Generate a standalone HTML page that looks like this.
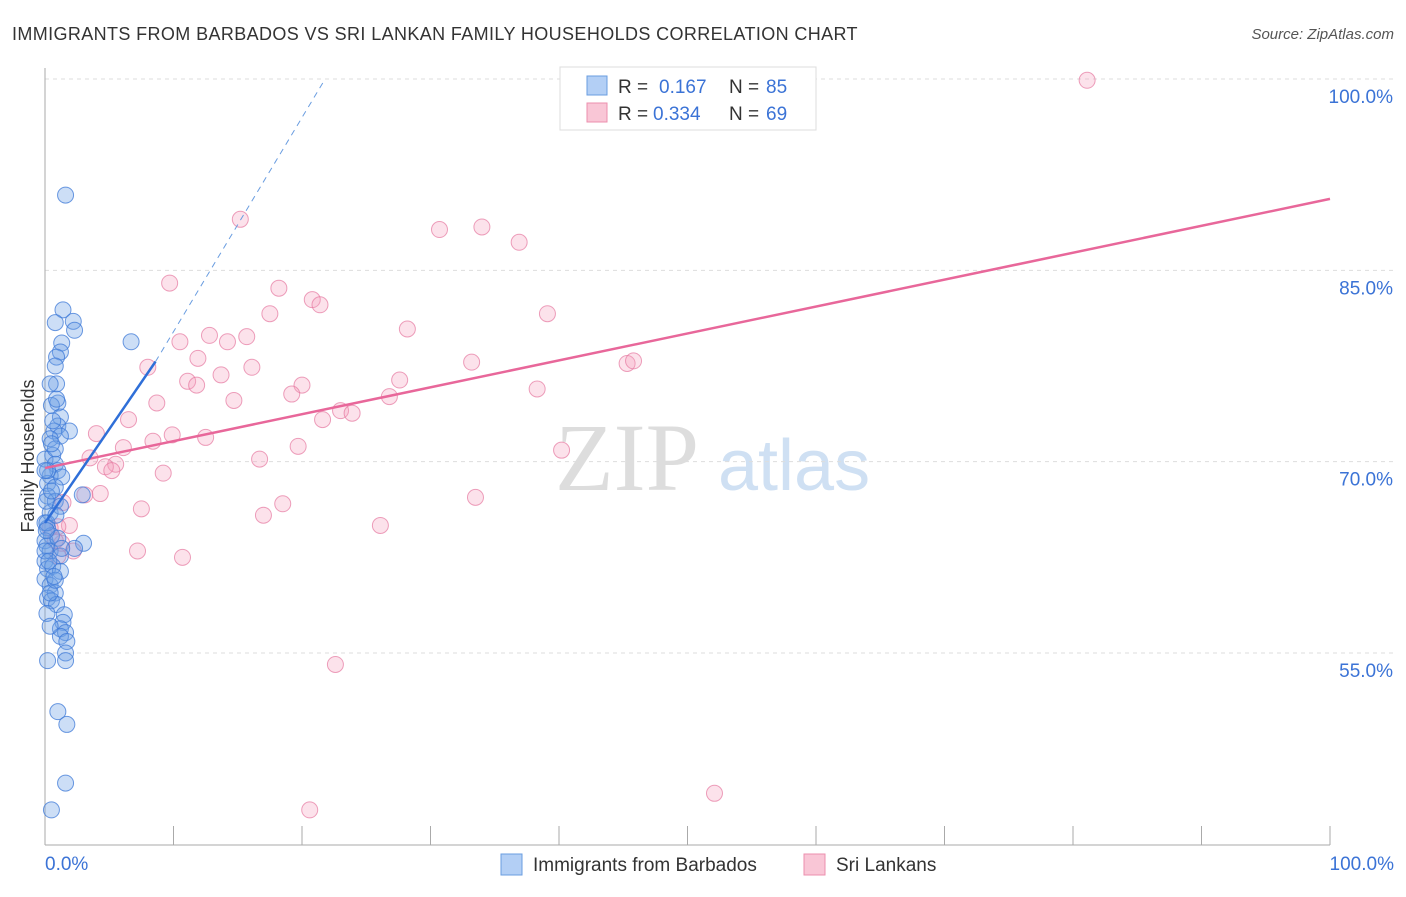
<!DOCTYPE html>
<html><head><meta charset="utf-8"><style>
body{margin:0;background:#fff;font-family:"Liberation Sans",sans-serif}
</style></head><body>
<svg id="c" width="1406" height="892" xmlns="http://www.w3.org/2000/svg">
<text x="12" y="40" font-size="18" fill="#333" letter-spacing="0.38">IMMIGRANTS FROM BARBADOS VS SRI LANKAN FAMILY HOUSEHOLDS CORRELATION CHART</text>
<text x="1394" y="39" font-size="15" fill="#555" font-style="italic" text-anchor="end">Source: ZipAtlas.com</text>
<text x="34" y="456" font-size="18" fill="#333" text-anchor="middle" transform="rotate(-90 34 456)">Family Households</text>
<text x="555" y="490" font-size="96" fill="#ddd" font-family="Liberation Serif">ZIP</text>
<text x="718" y="490" font-size="72" fill="#cfe0f3">atlas</text>
<g id="grid"></g><g id="pts"></g><g id="trend"></g>
<g>
<rect x="560" y="67" width="256" height="63" fill="#fff" stroke="#ddd"/>
<rect x="587" y="76" width="20" height="19" fill="#b3cff5" stroke="#6a9de0"/>
<rect x="587" y="103" width="20" height="19" fill="#f9c6d6" stroke="#ec8fae"/>
<text y="93" font-size="19" fill="#333"><tspan x="618">R =</tspan><tspan x="659" fill="#3b73d6">0.167</tspan><tspan x="729">N =</tspan><tspan x="766" fill="#3b73d6">85</tspan></text>
<text y="120" font-size="19" fill="#333"><tspan x="618">R =</tspan><tspan x="653" fill="#3b73d6">0.334</tspan><tspan x="729">N =</tspan><tspan x="766" fill="#3b73d6">69</tspan></text>
</g>
<g>
<rect x="501" y="854" width="21" height="21" fill="#b3cff5" stroke="#6a9de0"/>
<text x="533" y="871" font-size="19" fill="#333">Immigrants from Barbados</text>
<rect x="804" y="854" width="21" height="21" fill="#f9c6d6" stroke="#ec8fae"/>
<text x="836" y="871" font-size="19" fill="#333">Sri Lankans</text>
</g>
</svg>
<script>
const yTicks=[55,70,85,100];
const xTickLabels=["0.0%","100.0%"];
const blueX=[1.6,1.4,0.8,2.2,2.3,6.7,1.3,1.2,0.9,0.8,0.9,0.4,1.0,0.5,1.2,1.0,1.9,0.7,1.2,0.4,0.6,0,0.8,1.0,0.4,1.3,0.2,0.8,2.9,0.2,0.8,0.4,0,0.2,0.5,0,0.15,0.4,3.0,2.3,1.2,0,0.2,0.6,1.2,0,0.4,0.8,0.2,0.5,0.9,1.5,1.4,1.2,1.6,1.2,1.7,1.6,1.6,0.2,1.0,1.7,1.6,0.5,0,0.4,0.8,0.1,0.15,1.2,0.5,1.0,1.3,0.15,0.8,0.2,0.6,0.9,0.3,0.7,0.1,0.5,0.85,0.4,0];
const blueY=[90.9,81.9,80.9,81.0,80.3,79.4,79.3,78.6,78.2,77.5,76.1,76.1,74.6,74.4,73.5,72.8,72.4,72.4,72.0,71.8,70.5,70.2,69.8,69.3,68.9,68.8,68.3,68.0,67.4,67.3,66.9,66.0,65.2,64.8,64.2,63.8,63.4,63.0,63.6,63.2,62.6,62.2,61.6,61.8,61.4,60.8,60.3,59.7,59.3,59.1,58.8,58.0,57.4,56.9,56.6,56.3,55.9,55.0,54.4,54.4,50.4,49.4,44.8,42.7,63.0,59.7,71.0,66.9,65.2,66.5,71.4,64.0,63.2,58.1,60.7,69.3,73.2,74.9,62.2,61.0,64.6,67.7,65.8,57.1,69.3];
const pinkX=[81.1,15.2,30.7,34.0,36.9,9.7,18.2,20.8,21.4,17.5,39.1,28.2,12.8,15.7,10.5,14.2,11.9,33.2,8.0,45.3,45.8,16.1,13.7,11.1,11.8,20.0,27.6,38.3,19.2,26.8,8.7,14.7,23.0,23.9,21.6,6.5,4.0,9.9,8.4,12.5,6.1,19.7,40.2,3.5,16.7,5.5,4.7,5.2,9.2,33.5,3.1,4.3,18.5,7.5,1.4,17.0,26.1,1.9,1.0,0.4,1.3,2.2,0.8,7.2,10.7,1.0,22.6,52.1,20.6];
const pinkY=[99.9,89.0,88.2,88.4,87.2,84.0,83.6,82.7,82.3,81.6,81.6,80.4,79.9,79.8,79.4,79.4,78.1,77.8,77.4,77.7,77.9,77.4,76.8,76.3,76.0,76.0,76.4,75.7,75.3,75.1,74.6,74.8,74.0,73.8,73.3,73.3,72.2,72.1,71.6,71.9,71.1,71.2,70.9,70.3,70.2,69.8,69.6,69.3,69.1,67.2,67.4,67.5,66.7,66.3,66.8,65.8,65.0,65.0,64.9,64.8,63.6,63.0,63.8,63.0,62.5,62.6,54.1,44.0,42.7];
const blueTrend=[65.2,1.47];
const pinkTrend=[69.5,0.211];
const NS="http://www.w3.org/2000/svg";
const X0=45,X1=1330,YA=653,YB=79;
function sx(v){return X0+(X1-X0)*v/100;}
function sy(v){return YA+(YB-YA)*(v-55)/45;}
function mk(t,a,p){const e=document.createElementNS(NS,t);for(const k in a)e.setAttribute(k,a[k]);p.appendChild(e);return e;}
const grid=document.getElementById('grid');
yTicks.forEach(t=>{
 const l=mk('line',{x1:X0,x2:1394,y1:sy(t),y2:sy(t),stroke:'#ddd','stroke-dasharray':'4,4'},grid);
 
 
 const tx=mk('text',{x:1393,y:sy(t)+24,'font-size':19,fill:'#3b73d6','text-anchor':'end'},grid);
 tx.textContent=t.toFixed(1)+'%';
 
 
});
const ax=mk('line',{x1:X0,x2:X0,y1:68,y2:845,stroke:'#aaa'},grid);


const bx=mk('line',{x1:X0,x2:X1,y1:845,y2:845,stroke:'#aaa'},grid);


for(let i=0;i<=10;i++){const tk=mk('line',{x1:sx(i*10),x2:sx(i*10),y1:826,y2:845,stroke:'#aaa'},grid);
 
 }
[[0,'start',45],[100,'end',1394]].forEach((d,i)=>{const t=mk('text',{x:d[2],y:870,'font-size':19,fill:'#3b73d6','text-anchor':d[1]},grid);t.textContent=xTickLabels[i];
 
 });
const pts=document.getElementById('pts');
pinkX.forEach((x,i)=>{const c=mk('circle',{cx:sx(x),cy:sy(pinkY[i]),r:8,fill:'rgba(244,160,190,0.3)',stroke:'rgba(230,120,160,0.7)','stroke-width':1},pts);
 
 });
blueX.forEach((x,i)=>{const c=mk('circle',{cx:sx(x),cy:sy(blueY[i]),r:8,fill:'rgba(110,160,230,0.35)',stroke:'rgba(60,120,215,0.75)','stroke-width':1},pts);
 
 });
const tr=document.getElementById('trend');
const pl=mk('line',{x1:sx(0),y1:sy(pinkTrend[0]),x2:sx(100),y2:sy(pinkTrend[0]+100*pinkTrend[1]),stroke:'#e8679a','stroke-width':2.5},tr);


const bEnd=8.6, bTop=21.8;
const bl=mk('line',{x1:sx(0),y1:sy(blueTrend[0]),x2:sx(bEnd),y2:sy(blueTrend[0]+bEnd*blueTrend[1]),stroke:'#2f6fd8','stroke-width':2.5},tr);


const bd=mk('line',{x1:sx(bEnd),y1:sy(blueTrend[0]+bEnd*blueTrend[1]),x2:sx(bTop),y2:sy(100),stroke:'#6a9de0','stroke-width':1,'stroke-dasharray':'6,5'},tr);


</script>
</body></html>
